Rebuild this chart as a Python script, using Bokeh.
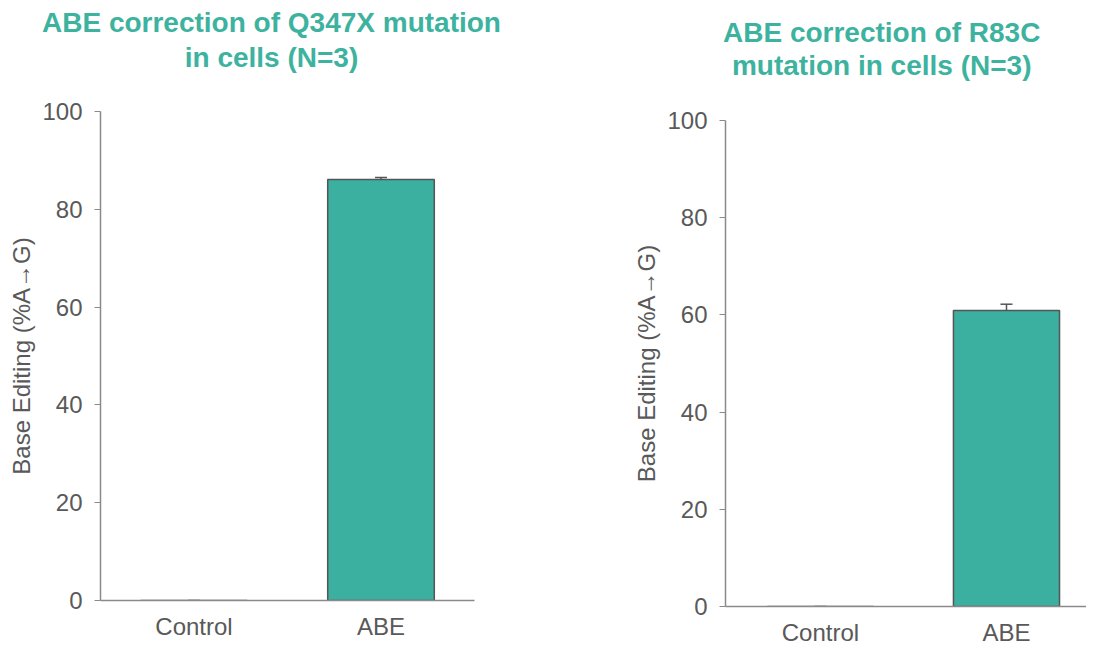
from bokeh.plotting import figure
from bokeh.layouts import row, column
from bokeh.models import ColumnDataSource, Range1d, Whisker, TeeHead, Div
from bokeh.embed import file_html
from bokeh.resources import INLINE

categories = ["Control", "ABE"]
q347x_means = [0.0, 86.1]
q347x_err = [0.0, 0.4]
r83c_means = [0.0, 60.9]
r83c_err = [0.0, 1.3]
titles = [["ABE correction of Q347X mutation", "in cells (N=3)"],
          ["ABE correction of R83C", "mutation in cells (N=3)"]]
y_ticks = [0, 20, 40, 60, 80, 100]

TEAL = "#3bb0a0"
TITLE_C = "#3db39f"
GREY = "#595959"
FONT = "Liberation Sans"


def make_title(lines, width, height, pad_top, pad_left, lh):
    html = ("<div style=\"font-family:'Liberation Sans',Arial,sans-serif;font-weight:bold;"
            f"font-size:28px;color:{TITLE_C};text-align:center;line-height:{lh}px;"
            f"padding-top:{pad_top}px;padding-left:{pad_left}px;white-space:nowrap;\">"
            + "<br>".join(lines) + "</div>")
    return Div(text=html, width=width, height=height, margin=0)


def make(means, errs, fw, fh, bl, br, bt, bb, x_start, x_end, x_standoff):
    xs = [i + 0.5 for i in range(len(categories))]
    src = ColumnDataSource(dict(x=xs, mean=means,
                                upper=[m + e for m, e in zip(means, errs)],
                                lower=[m - e for m, e in zip(means, errs)]))
    p = figure(x_range=Range1d(x_start, x_end),
               y_range=Range1d(0, 100), frame_width=fw, frame_height=fh,
               output_backend="svg", toolbar_location=None, margin=0,
               min_border_left=bl, min_border_right=br, min_border_top=bt, min_border_bottom=bb)
    p.vbar(x="x", top="mean", width=0.57, source=src, fill_color=TEAL,
           line_color="#555555", line_width=1.5)
    w = Whisker(base="x", upper="upper", lower="lower", source=src,
                line_color="#555555", line_width=1.5,
                upper_head=TeeHead(size=12, line_color="#555555", line_width=1.5),
                lower_head=None)
    p.add_layout(w)
    p.outline_line_color = None
    p.xgrid.grid_line_color = None
    p.ygrid.grid_line_color = None
    p.yaxis.ticker = y_ticks
    p.xaxis.ticker = xs
    p.xaxis.major_label_overrides = {x: c for x, c in zip(xs, categories)}
    for ax in (p.xaxis, p.yaxis):
        ax.axis_line_color = "#8a8a8a"
        ax.axis_line_width = 1.5
        ax.major_label_text_font = FONT
        ax.major_label_text_font_size = "24px"
        ax.major_label_text_color = GREY
        ax.minor_tick_line_color = None
    p.yaxis.major_tick_line_color = "#8a8a8a"
    p.yaxis.major_tick_out = 6
    p.yaxis.major_tick_in = 0
    p.yaxis.major_label_standoff = 12
    p.xaxis.major_tick_line_color = None
    p.xaxis.major_tick_out = 0
    p.xaxis.major_tick_in = 0
    p.xaxis.major_label_standoff = x_standoff
    p.yaxis.axis_label = "Base Editing (%A\u2192G)"
    p.yaxis.axis_label_text_font = FONT
    p.yaxis.axis_label_text_font_size = "24px"
    p.yaxis.axis_label_text_font_style = "normal"
    p.yaxis.axis_label_text_color = GREY
    p.yaxis.axis_label_standoff = 4
    return p


t1 = make_title(titles[0], 548, 95, 5, 42, 35)
p1 = make(q347x_means, q347x_err, 374, 489, 100, 74, 16, 40, 0.0, 2.0, 12)
t2 = make_title(titles[1], 538, 100, 16, 175, 33)
p2 = make(r83c_means, r83c_err, 361, 486, 177, 0, 20, 34, -0.01, 1.93, 12)

layout = row(column(t1, p1), column(t2, p2))
open("out.html", "w").write(file_html(layout, INLINE))
